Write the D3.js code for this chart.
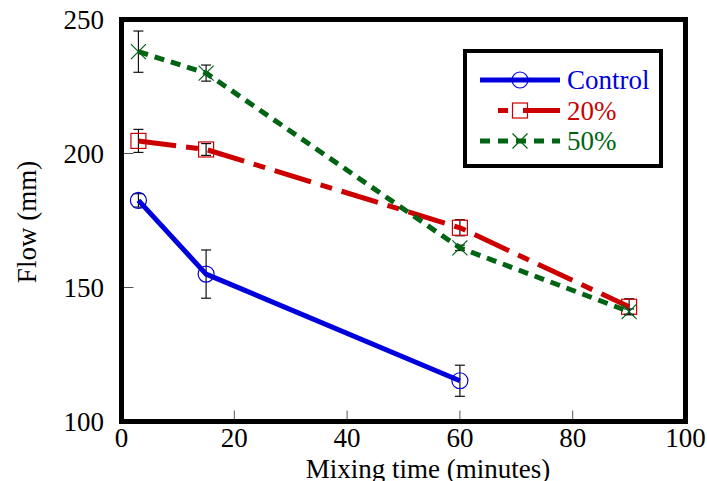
<!DOCTYPE html>
<html><head><meta charset="utf-8">
<script src="https://cdn.jsdelivr.net/npm/d3@7"></script>
<style>body{margin:0;background:#fff}svg{display:block}</style>
</head><body>
<script>
const mixingTimes = [3, 15, 60, 90];
const controlFlow = [182.5, 155, 115.2];
const controlErr = [2.5, 9, 5.8];
const flow20 = [204.7, 201.5, 172.3, 142.8];
const err20 = [4.3, 2.2, 3, 3];
const flow50 = [238, 230, 164.8, 141];
const err50 = [7.7, 3, 1, 1];
const xTicks = [0, 20, 40, 60, 80, 100];
const yTicks = [100, 150, 200, 250];
const seriesNames = ["Control", "20%", "50%"];

const FONT = "'Liberation Serif'";
const FS = 27;
const W = 707, H = 481;
const svg = d3.select("body").append("svg").attr("width", W).attr("height", H);
const x = d3.scaleLinear().domain([0, 100]).range([121.5, 685.5]);
const y = d3.scaleLinear().domain([100, 250]).range([421.5, 19.5]);

const series = [
  {name: seriesNames[0], vals: controlFlow, err: controlErr, color: "#0000dd", dash: null, marker: "circle"},
  {name: seriesNames[1], vals: flow20, err: err20, color: "#cc0000", dash: "38,10,12,10", marker: "square"},
  {name: seriesNames[2], vals: flow50, err: err50, color: "#006414", dash: "10,7", marker: "x"}
];

function txt(sel) { return sel.style("font-family", FONT).attr("font-size", FS); }

// inner ticks
const tg = svg.append("g");
xTicks.slice(1, -1).forEach(t => {
  tg.append("line").attr("x1", x(t)).attr("x2", x(t)).attr("y1", y(100)).attr("y2", y(100) - 11)
    .attr("stroke", "#555").attr("stroke-width", 1);
});
yTicks.slice(1, -1).forEach(t => {
  tg.append("line").attr("x1", x(0)).attr("x2", x(0) + 12).attr("y1", y(t)).attr("y2", y(t))
    .attr("stroke", "#555").attr("stroke-width", 1);
});

// tick labels
xTicks.forEach(t => {
  txt(svg.append("text")).attr("x", x(t)).attr("y", 447).attr("text-anchor", "middle").text(t);
});
yTicks.forEach(t => {
  txt(svg.append("text")).attr("x", 104).attr("y", y(t) + 9).attr("text-anchor", "end").text(t);
});

// axis labels
txt(svg.append("text")).attr("x", 428).attr("y", 478).attr("text-anchor", "middle").text("Mixing time (minutes)");
txt(svg.append("text")).attr("transform", "translate(36,222) rotate(-90)")
  .attr("text-anchor", "middle").text("Flow (mm)");

function drawMarker(g, type, cx, cy, color) {
  if (type === "circle") {
    g.append("circle").attr("cx", cx).attr("cy", cy).attr("r", 8)
      .attr("fill", "none").attr("stroke", color).attr("stroke-width", 1.2);
  } else if (type === "square") {
    g.append("rect").attr("x", cx - 7.5).attr("y", cy - 7.5).attr("width", 15).attr("height", 15)
      .attr("fill", "none").attr("stroke", color).attr("stroke-width", 1.2);
  } else {
    const s = 7.5;
    g.append("path").attr("d", `M${cx - s},${cy - s}L${cx + s},${cy + s}M${cx - s},${cy + s}L${cx + s},${cy - s}`)
      .attr("stroke", color).attr("stroke-width", 1.2).attr("fill", "none");
  }
}

const line = d3.line().x(d => x(d[0])).y(d => y(d[1]));
series.forEach(s => {
  const g = svg.append("g");
  const pts = s.vals.map((v, i) => [mixingTimes[i], v, s.err[i]]);
  pts.forEach(p => {
    const cx = x(p[0]), y1 = y(p[1] + p[2]), y2 = y(p[1] - p[2]);
    g.append("line").attr("x1", cx).attr("x2", cx).attr("y1", y1).attr("y2", y2).attr("stroke", "#111").attr("stroke-width", 1.2);
    [y1, y2].forEach(yy => g.append("line").attr("x1", cx - 5).attr("x2", cx + 5).attr("y1", yy).attr("y2", yy).attr("stroke", "#111").attr("stroke-width", 1.2));
  });
  pts.forEach(p => drawMarker(g, s.marker, x(p[0]), y(p[1]), s.color));
  g.append("path").datum(pts).attr("d", line).attr("fill", "none").attr("stroke", s.color)
    .attr("stroke-width", 5).attr("stroke-dasharray", s.dash);
});

// frame
svg.append("rect").attr("x", x(0)).attr("y", y(250)).attr("width", x(100) - x(0)).attr("height", y(100) - y(250))
  .attr("fill", "none").attr("stroke", "#000").attr("stroke-width", 5);

// legend
const lg = svg.append("g");
lg.append("rect").attr("x", 465).attr("y", 51).attr("width", 196).attr("height", 115)
  .attr("fill", "#fff").attr("stroke", "#000").attr("stroke-width", 4);
series.forEach((s, i) => {
  const ly = 80 + i * 30.5;
  lg.append("line").attr("x1", s.marker === "square" ? 523 : 480).attr("x2", 560).attr("y1", ly).attr("y2", ly)
    .attr("stroke", s.color).attr("stroke-width", 5).attr("stroke-dasharray", s.dash === null ? null : (s.marker === "square" ? null : "10,8"));
  if (s.marker === "square") {
    lg.append("line").attr("x1", 498).attr("x2", 508).attr("y1", ly).attr("y2", ly).attr("stroke", s.color).attr("stroke-width", 5);
  }
  drawMarker(lg, s.marker, 520, ly, s.color);
  txt(lg.append("text")).attr("x", 567).attr("y", ly + 9).attr("fill", s.color).text(s.name);
});
</script>
</body></html>
